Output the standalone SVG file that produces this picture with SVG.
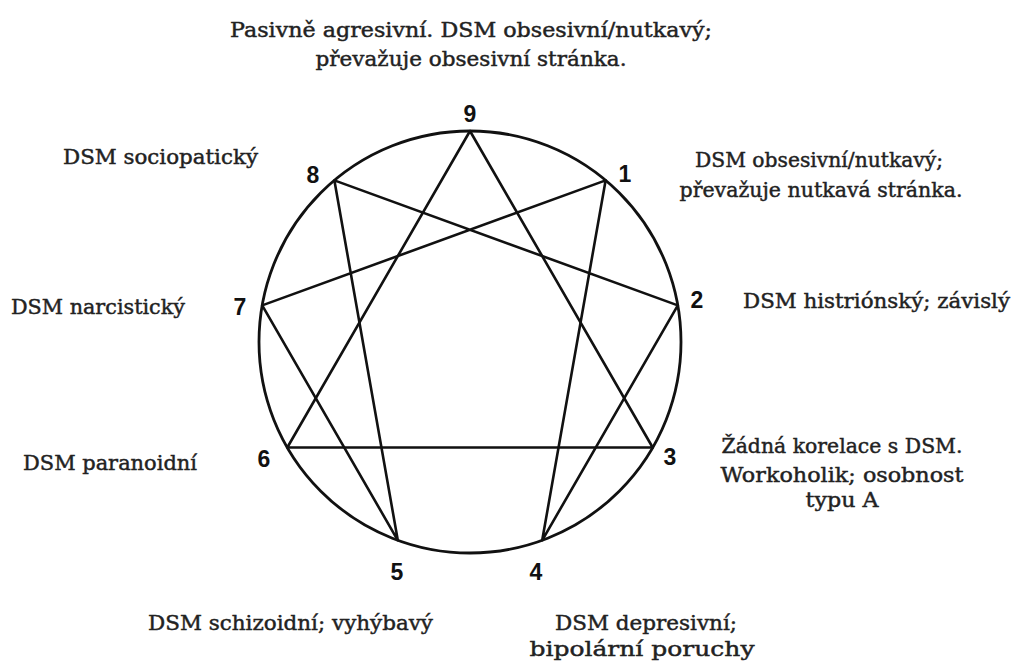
<svg xmlns="http://www.w3.org/2000/svg" width="1014" height="663" viewBox="0 0 1014 663">
<style>
.bg{fill:#ffffff}
.ring{fill:none;stroke:#111;stroke-width:2.8}
.ln{fill:none;stroke:#111;stroke-width:2.6;stroke-linejoin:round;stroke-linecap:round}
.num{font-family:"Liberation Sans",Arial,sans-serif;font-weight:bold;font-size:23px;fill:#111;text-anchor:middle}
.lbl{font-family:"DejaVu Serif","Liberation Serif",serif;font-size:21px;fill:#222;stroke:#222;stroke-width:0.45}
.mid{text-anchor:middle}
</style>
<rect class="bg" x="0" y="0" width="1014" height="663"/>
<g id="enneagram">
<circle class="ring" cx="470" cy="342" r="211"/>
</g>
<g id="connectors">
<polygon class="ln" points="470,131 652.7,447.5 287.3,447.5"/>
<polygon class="ln" points="605.6,180.4 542.2,540.3 677.8,305.4 334.4,180.4 397.8,540.3 262.2,305.4"/>
</g>
<g id="node9">
<text class="num" x="470" y="122">9</text>
<text class="lbl mid" x="471" y="37" textLength="482" lengthAdjust="spacingAndGlyphs">Pasivně agresivní. DSM obsesivní/nutkavý;</text>
<text class="lbl mid" x="471" y="66" textLength="311" lengthAdjust="spacingAndGlyphs">převažuje obsesivní stránka.</text>
</g>
<g id="node1">
<text class="num" x="625" y="182">1</text>
<text class="lbl mid" x="819" y="167" textLength="248" lengthAdjust="spacingAndGlyphs">DSM obsesivní/nutkavý;</text>
<text class="lbl mid" x="821" y="197" textLength="283" lengthAdjust="spacingAndGlyphs">převažuje nutkavá stránka.</text>
</g>
<g id="node2">
<text class="num" x="697" y="308">2</text>
<text class="lbl" x="743" y="308" textLength="267" lengthAdjust="spacingAndGlyphs">DSM histriónský; závislý</text>
</g>
<g id="node3">
<text class="num" x="670" y="465">3</text>
<text class="lbl mid" x="842" y="453" textLength="241" lengthAdjust="spacingAndGlyphs">Žádná korelace s DSM.</text>
<text class="lbl mid" x="842" y="482" textLength="243" lengthAdjust="spacingAndGlyphs">Workoholik; osobnost</text>
<text class="lbl mid" x="842" y="507" textLength="73" lengthAdjust="spacingAndGlyphs">typu A</text>
</g>
<g id="node4">
<text class="num" x="536" y="580">4</text>
<text class="lbl mid" x="646" y="630" textLength="182" lengthAdjust="spacingAndGlyphs">DSM depresivní;</text>
<text class="lbl mid" x="642" y="656" textLength="225" lengthAdjust="spacingAndGlyphs">bipolární poruchy</text>
</g>
<g id="node5">
<text class="num" x="397" y="580">5</text>
<text class="lbl" x="148" y="630" textLength="285" lengthAdjust="spacingAndGlyphs">DSM schizoidní; vyhýbavý</text>
</g>
<g id="node6">
<text class="num" x="264" y="467">6</text>
<text class="lbl" x="23" y="470" textLength="174" lengthAdjust="spacingAndGlyphs">DSM paranoidní</text>
</g>
<g id="node7">
<text class="num" x="240" y="315">7</text>
<text class="lbl" x="11" y="314" textLength="174" lengthAdjust="spacingAndGlyphs">DSM narcistický</text>
</g>
<g id="node8">
<text class="num" x="313" y="183">8</text>
<text class="lbl" x="63" y="164" textLength="195" lengthAdjust="spacingAndGlyphs">DSM sociopatický</text>
</g>
</svg>
